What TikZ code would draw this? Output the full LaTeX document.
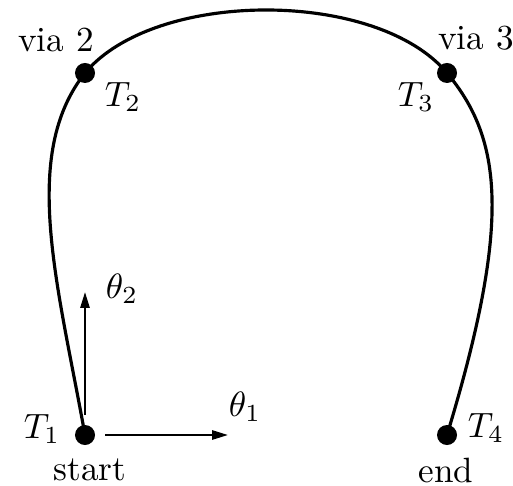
\documentclass[tikz,border=0pt]{standalone}
\usepackage{amsmath}
\usetikzlibrary{arrows.meta}

\begin{document}
\begin{tikzpicture}[x=0.01cm, y=0.01cm, >={Triangle[length=4.5pt,width=2.6pt]}, via/.style={circle,fill,inner sep=0pt,minimum size=0.2cm}, path/.style={line width=0.9pt}, axis/.style={->,line width=0.6pt}]
\useasboundingbox (0,0) rectangle (513,485);
\node[via] (T1) at (85,50) {};
\node[via] (T2) at (85,412) {};
\node[via] (T3) at (447,412) {};
\node[via] (T4) at (447,50) {};
\draw[path] (T1.center) .. controls (58,200) and (20,330) .. (T2.center)
  .. controls (155,496) and (377,496) .. (T3.center)
  .. controls (502,346) and (512,264) .. (T4.center);
\coordinate (o2) at (85,70);
\coordinate (e2) at (85,193);
\coordinate (o1) at (105,50);
\coordinate (e1) at (228,50);
\draw[axis] (o2)--(e2);
\draw[axis] (o1)--(e1);
\node (th2) at (122,196) {$\theta_2$};
\node (th1) at (245,78) {$\theta_1$};
\node (l1) at (42,56) {$T_1$};
\node (l2) at (123,388) {$T_2$};
\node (l3) at (416,388) {$T_3$};
\node (l4) at (486,57) {$T_4$};
\node (start) at (90,15) {start};
\node (end) at (446,15) {end};
\node (via2) at (56,445) {via 2};
\node (via3) at (476,447) {via 3};
\end{tikzpicture}
\end{document}
